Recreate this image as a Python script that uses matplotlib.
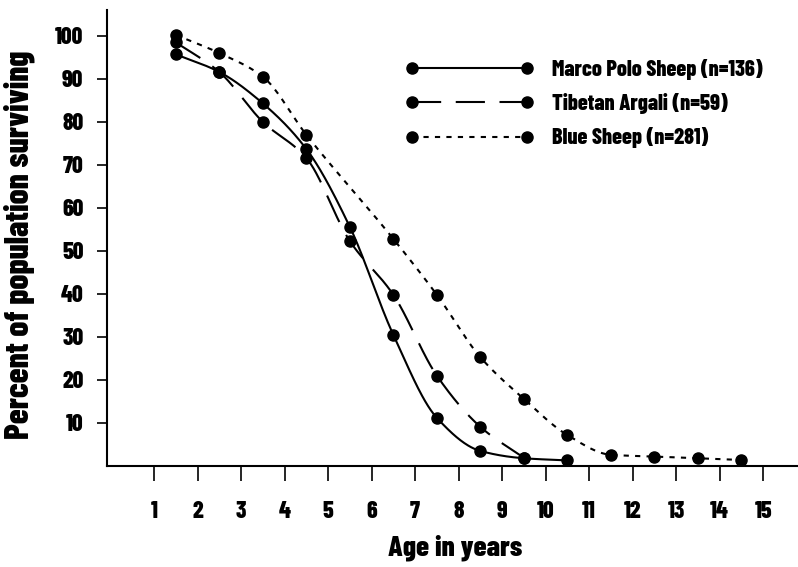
import numpy as np
import matplotlib
matplotlib.use('Agg')
import matplotlib.pyplot as plt
from matplotlib.lines import Line2D
from matplotlib.legend_handler import HandlerLine2D

# --- data ---
marco_age = [1.5, 2.5, 3.5, 4.5, 5.5, 6.5, 7.5, 8.5, 9.5, 10.5]
marco_pct = [95.7, 91.6, 84.3, 73.7, 55.6, 30.5, 11.2, 3.5, 1.8, 1.3]

argali_age = [1.5, 2.5, 3.5, 4.5, 5.5, 6.5, 7.5, 8.5, 9.5]
argali_pct = [98.5, 91.6, 80.0, 71.6, 52.3, 39.8, 21.0, 9.1, 1.9]

blue_age = [1.5, 2.5, 3.5, 4.5, 6.5, 7.5, 8.5, 9.5, 10.5, 11.5, 12.5, 13.5, 14.5]
blue_pct = [100.2, 96.0, 90.5, 77.0, 52.8, 39.8, 25.3, 15.6, 7.2, 2.6, 2.2, 1.8, 1.4]

labels = ['Marco Polo Sheep (n=136)', 'Tibetan Argali (n=59)', 'Blue Sheep (n=281)']
x_ticks = list(range(1, 16))
y_ticks = list(range(10, 101, 10))


def smooth(x, y, n=400):
    # monotone cubic (pchip style) just to draw the curve between the points
    x = np.asarray(x, float)
    y = np.asarray(y, float)
    h = np.diff(x)
    d = np.diff(y) / h
    m = np.zeros_like(y)
    m[0], m[-1] = d[0], d[-1]
    for k in range(1, len(x) - 1):
        if d[k - 1] * d[k] > 0:
            w1 = 2 * h[k] + h[k - 1]
            w2 = h[k] + 2 * h[k - 1]
            m[k] = (w1 + w2) / (w1 / d[k - 1] + w2 / d[k])
    xs = np.linspace(x[0], x[-1], n)
    idx = np.clip(np.searchsorted(x, xs) - 1, 0, len(x) - 2)
    t = (xs - x[idx]) / h[idx]
    h00 = 2 * t**3 - 3 * t**2 + 1
    h10 = t**3 - 2 * t**2 + t
    h01 = -2 * t**3 + 3 * t**2
    h11 = t**3 - t**2
    ys = h00 * y[idx] + h10 * h[idx] * m[idx] + h01 * y[idx + 1] + h11 * h[idx] * m[idx + 1]
    return xs, ys


# condensed heavy face, close to the old typeset look
plt.rcParams['font.family'] = ['Barlow Condensed', 'DejaVu Sans']
plt.rcParams['font.weight'] = 800

fig = plt.figure(figsize=(7.98, 5.67), dpi=100)
ax = fig.add_axes([107 / 798, 101 / 567, 691 / 798, 456 / 567])

styles = [
    dict(linestyle='-'),
    dict(linestyle=(0, (14, 7))),
    dict(linestyle=(0, (2.5, 3))),
]
series = [(marco_age, marco_pct), (argali_age, argali_pct), (blue_age, blue_pct)]

handles = []
for (sx, sy), st, lab in zip(series, styles, labels):
    xs, ys = smooth(sx, sy)
    ax.plot(xs, ys, color='black', lw=1.5, **st)
    ax.plot(sx, sy, 'o', color='black', ms=8, zorder=3)
    handles.append(Line2D([], [], color='black', lw=1.5, marker='o', ms=8, label=lab, **st))

ax.set_xlim(-0.08, 15.8)
ax.set_ylim(0, 106)
ax.set_xticks(x_ticks)
ax.set_yticks(y_ticks)
ax.tick_params(axis='x', direction='out', length=11, width=1.2, pad=14, labelsize=17)
ax.tick_params(axis='y', direction='out', length=7, width=1.2, pad=10, labelsize=17)
for sp in ['top', 'right']:
    ax.spines[sp].set_visible(False)
for sp in ['left', 'bottom']:
    ax.spines[sp].set_linewidth(1.5)

ax.set_xlabel('Age in years', fontsize=21, fontweight=800)
ax.set_ylabel('Percent of population surviving', fontsize=24, fontweight=800)
ax.xaxis.set_label_coords(0.504, -0.15)
ax.yaxis.set_label_coords(-0.104, 0.485)

ax.legend(handles=handles, loc='upper left', bbox_to_anchor=(0.441, 0.893),
          frameon=False, fontsize=16, handlelength=5.2, handletextpad=1.1,
          labelspacing=0.6, borderpad=0, borderaxespad=0,
          handler_map={Line2D: HandlerLine2D(numpoints=2, marker_pad=0)})

fig.savefig('out.png', dpi=100)
